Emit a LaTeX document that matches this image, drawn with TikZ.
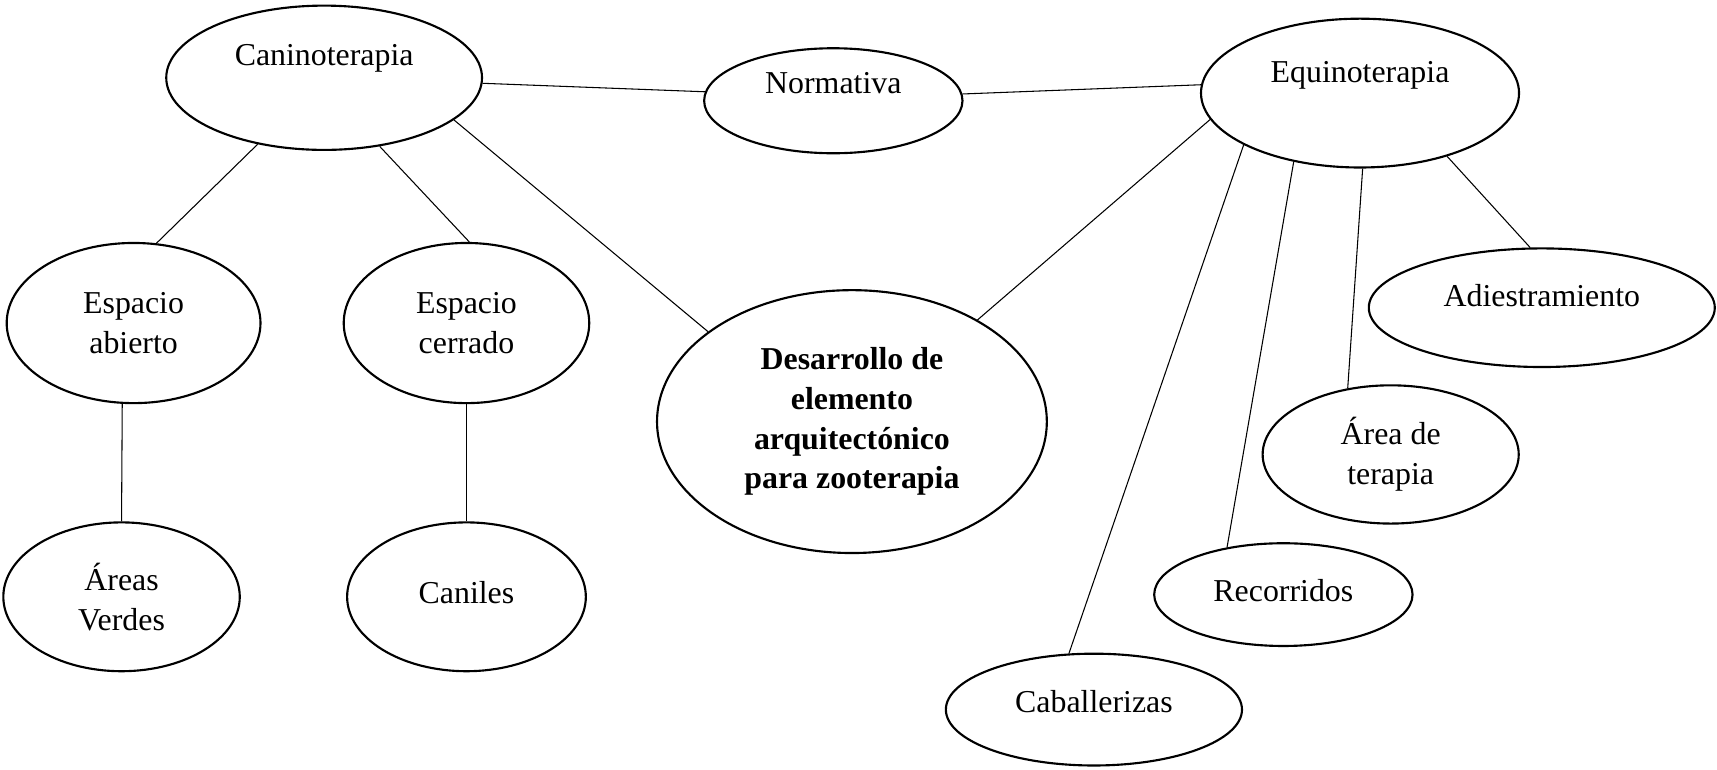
\documentclass[tikz,border=0pt]{standalone}
\usepackage{fontspec}
\setmainfont{Liberation Serif}
\usetikzlibrary{shapes.geometric}

\begin{document}
\begin{tikzpicture}[
  x=0.0145cm,
  y=-0.0145cm,
  myellipse/.style 2 args={
    draw,
    thick,
    ellipse,
    inner sep=0pt,
    minimum width=#1,
    minimum height=#2,
    align=center,
    font=\fontsize{12}{15}\selectfont
    },
  lift/.style={
    text height=8pt,
    text depth=#1
  },
  myline/.style={
    thin
  }
]
\useasboundingbox (0,0) rectangle (1568,703);

% nodos principales
\node[myellipse={4.18cm}{1.91cm}, lift=17pt] (canino) at (296,71) {Caninoterapia};
\node[myellipse={3.42cm}{1.39cm}, lift=13.8pt] (normativa) at (761,92) {Normativa};
\node[myellipse={4.21cm}{1.97cm}, lift=16.2pt] (equino) at (1242,85) {Equinoterapia};
\node[myellipse={5.16cm}{3.48cm}, font=\fontsize{12}{15}\selectfont\bfseries]
  (desarrollo) at (778,385) {Desarrollo de\\elemento\\arquitectónico\\para zooterapia};

% caninoterapia
\node[myellipse={3.36cm}{2.12cm}] (abierto) at (122,295) {Espacio\\abierto};
\node[myellipse={3.25cm}{2.12cm}] (cerrado) at (426,295) {Espacio\\cerrado};
\node[myellipse={3.13cm}{1.97cm}] (verdes) at (111,545) {Áreas\\Verdes};
\node[myellipse={3.16cm}{1.97cm}, lift=3pt] (caniles) at (426,545) {Caniles};

% equinoterapia
\node[myellipse={4.58cm}{1.57cm}, lift=8.8pt] (adiestramiento) at (1408,281) {Adiestramiento};
\node[myellipse={3.39cm}{1.83cm}] (terapia) at (1270,415) {Área de\\terapia};
\node[myellipse={3.42cm}{1.36cm}, lift=3pt] (recorridos) at (1172,543) {Recorridos};
\node[myellipse={3.92cm}{1.48cm}, lift=5.6pt] (caballerizas) at (999,648) {Caballerizas};

% conexiones
\draw[myline] (canino.-2) -- (normativa.176);
\draw[myline] (normativa.3) -- (equino.177);
\draw[myline] (canino.225) -- (abierto.74);
\draw[myline] (canino.-51) -- (cerrado.88);
\draw[myline] (canino.-18) -- (desarrollo.148);
\draw[myline] (abierto.262) -- (verdes.north);
\draw[myline] (cerrado.south) -- (caniles.north);
\draw[myline] (equino.190) -- (desarrollo.39);
\draw[myline] (equino.204) -- (caballerizas.114);
\draw[myline] (equino.226) -- (recorridos.140);
\draw[myline] (equino.272) -- (terapia.123);
\draw[myline] (equino.324) -- (adiestramiento.101);

\end{tikzpicture}
\end{document}
